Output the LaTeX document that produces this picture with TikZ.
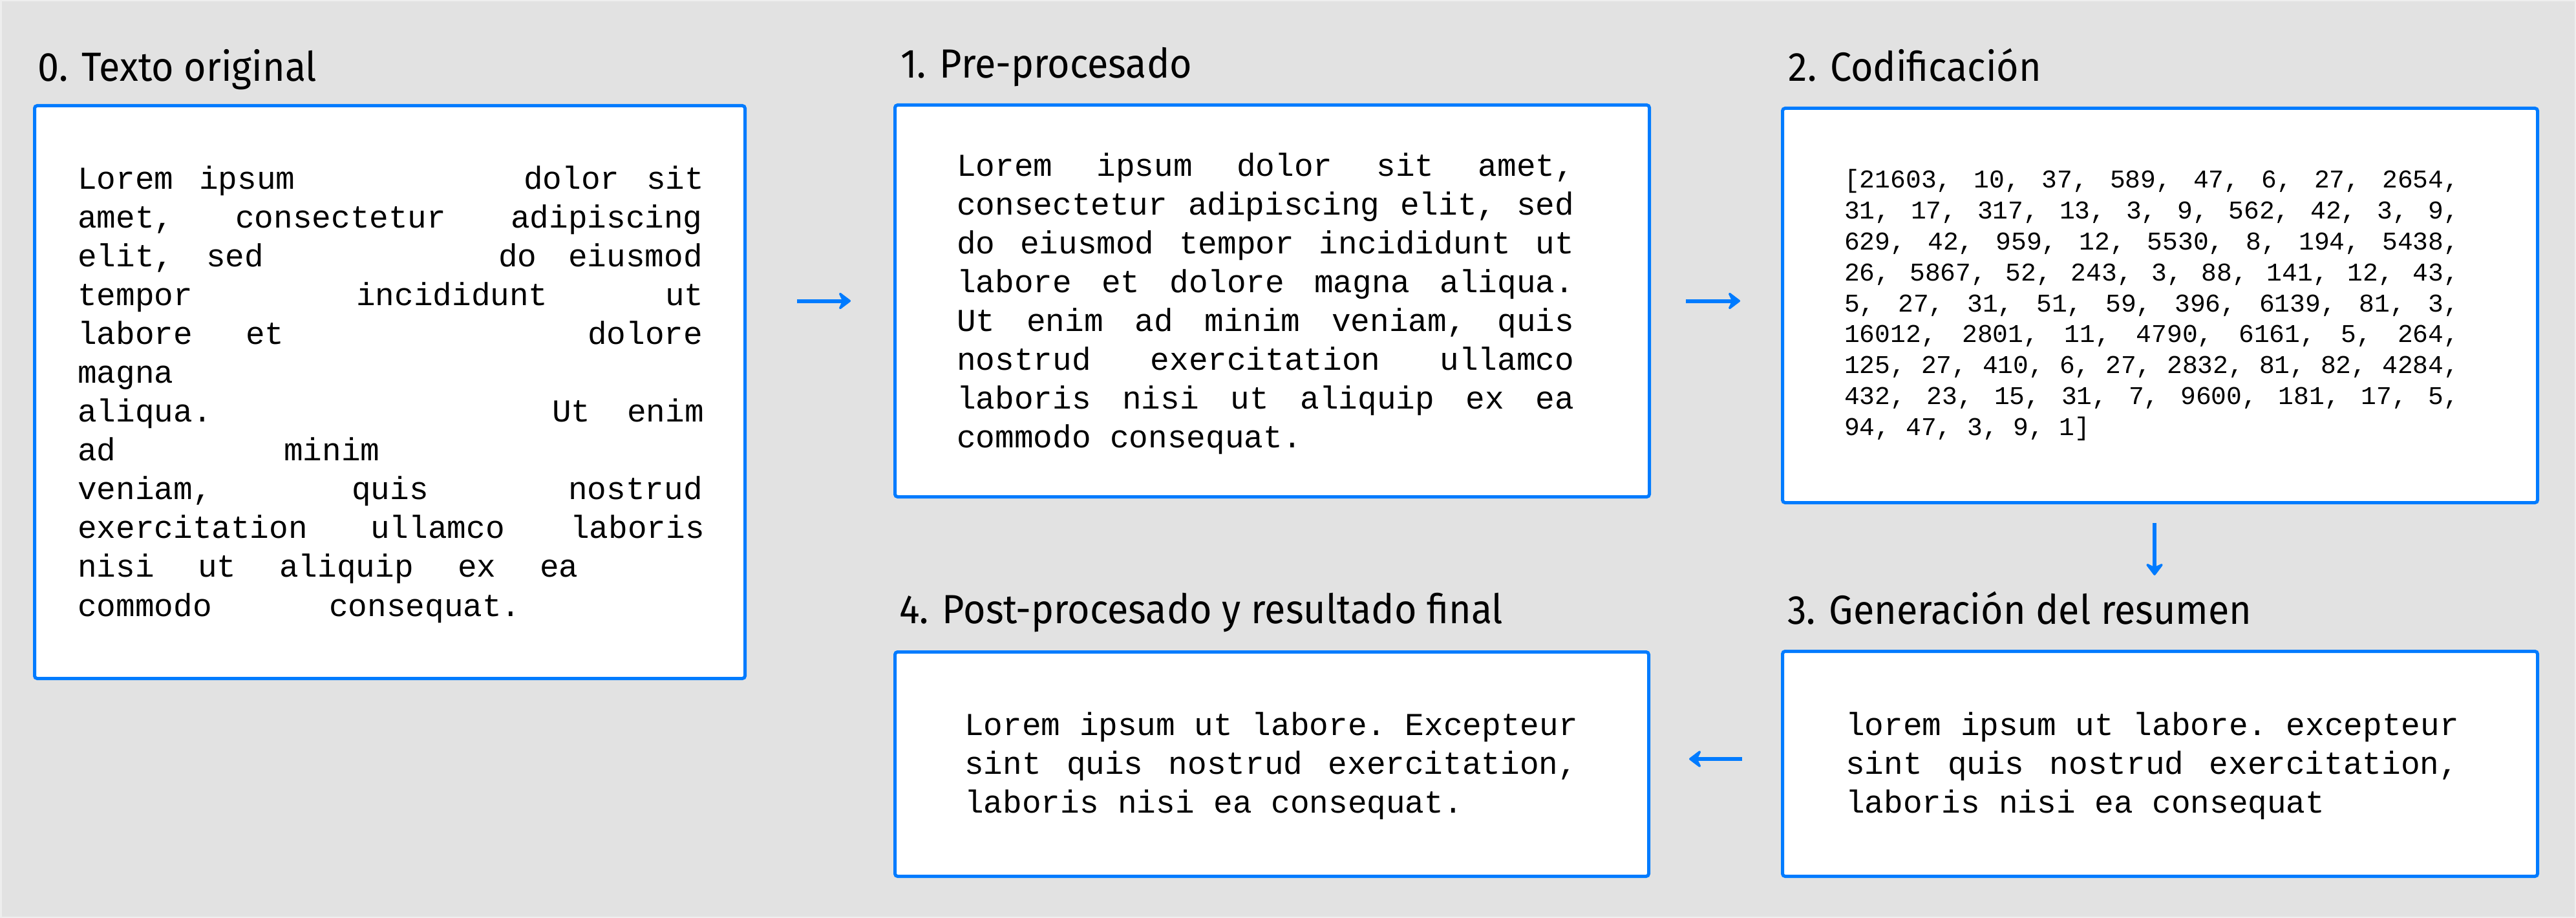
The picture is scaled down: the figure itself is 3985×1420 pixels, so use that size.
\documentclass[tikz,border=0pt]{standalone}
\usepackage{fontspec}
\usetikzlibrary{arrows.meta}
\newfontfamily\monofont{Liberation Mono}
\newfontfamily\titlefont[FakeStretch=0.94]{Fira Sans}
\definecolor{bgout}{RGB}{238,238,238}
\definecolor{bgin}{RGB}{226,226,226}
\definecolor{boxblue}{RGB}{0,123,255}
\newcommand\monobig{\monofont\fontsize{49.4pt}{60pt}\selectfont\frenchspacing}
\newcommand\monosmall{\monofont\fontsize{39.6pt}{47.6pt}\selectfont\frenchspacing}
\newcommand\jline[2]{\hbox to #1{\spaceskip=\fontdimen2\font plus 1fil\relax #2}}
\tikzset{
  panel/.style={draw=boxblue, line width=5pt, fill=white, rounded corners=4pt,
    inner sep=0pt, outer sep=0pt, anchor=north west},
  ttl/.style={anchor=base west, inner sep=0pt, font=\titlefont\fontsize{63pt}{75pt}\selectfont},
  big/.style={anchor=base west, inner sep=0pt, font=\monobig},
  small/.style={anchor=base west, inner sep=0pt, font=\monosmall},
  flow/.style={draw=boxblue, line width=6pt, -{Stealth[length=22pt,width=33pt,inset=8pt,round]}}
}
\begin{document}
\begin{tikzpicture}[x=1pt,y=-1pt]
\useasboundingbox (0,0) rectangle (3985,1420);
\fill[bgout] (0,0) rectangle (3985,1420);
\fill[bgin] (2.5,2.5) rectangle (3982.5,1417.5);

% panels
\node[panel, minimum width=1099pt, minimum height=886pt] (b0) at (53.5,163.5) {};
\node[panel, minimum width=1167pt, minimum height=606pt] (b1) at (1384.5,162.5) {};
\node[panel, minimum width=1168pt, minimum height=610pt] (b2) at (2757.5,167.5) {};
\node[panel, minimum width=1168pt, minimum height=348pt] (b3) at (2757.5,1007.5) {};
\node[panel, minimum width=1166pt, minimum height=347pt] (b4) at (1384.5,1008.5) {};

% titles
\node[ttl] (t0) at (58.5,125.5) {0. Texto original};
\node[ttl] (t1) at (1393,120.5) {1. Pre-procesado};
\node[ttl] (t2) at (2766.5,125.7) {2. Codificación};
\node[ttl] (t3) at (2765,965.7) {3. Generación del resumen};
\node[ttl] (t4) at (1391,964.5) {4. Post-procesado y resultado final};

% panel 0 text (words placed as printed)
\node[big] (w0a) at (120,292.4) {Lorem};
\node[big] (w0b) at (308,292.4) {ipsum};
\node[big] (w0c) at (810,292.4) {dolor};
\node[big] (w0d) at (1000,292.4) {sit};
\node[big] (w1a) at (120,352.5) {amet,};
\node[big] (w1b) at (364,352.5) {consectetur};
\node[big] (w1c) at (790,352.5) {adipiscing};
\node[big] (w2a) at (120,412.5) {elit,};
\node[big] (w2b) at (319,412.5) {sed};
\node[big] (w2c) at (771,412.5) {do};
\node[big] (w2d) at (879,412.5) {eiusmod};
\node[big] (w3a) at (120,472.6) {tempor};
\node[big] (w3b) at (551,472.6) {incididunt};
\node[big] (w3c) at (1029,472.6) {ut};
\node[big] (w4a) at (120,532.7) {labore};
\node[big] (w4b) at (380,532.7) {et};
\node[big] (w4c) at (909,532.7) {dolore};
\node[big] (w5a) at (120,592.7) {magna};
\node[big] (w6a) at (120,652.7) {aliqua.};
\node[big] (w6b) at (854,652.7) {Ut};
\node[big] (w6c) at (970,652.7) {enim};
\node[big] (w7a) at (120,712.8) {ad};
\node[big] (w7b) at (439,712.8) {minim};
\node[big] (w8a) at (120,772.8) {veniam,};
\node[big] (w8b) at (544,772.8) {quis};
\node[big] (w8c) at (879,772.8) {nostrud};
\node[big] (w9a) at (120,832.9) {exercitation};
\node[big] (w9b) at (573,832.9) {ullamco};
\node[big] (w9c) at (882,832.9) {laboris};
\node[big] (w10a) at (120,892.9) {nisi};
\node[big] (w10b) at (306,892.9) {ut};
\node[big] (w10c) at (432,892.9) {aliquip};
\node[big] (w10d) at (708,892.9) {ex};
\node[big] (w10e) at (835,892.9) {ea};
\node[big] (w11a) at (120,953) {commodo};
\node[big] (w11b) at (509,953) {consequat.};

% panel 1 text
\node[big] (p1a) at (1480,272.5) {\jline{955pt}{Lorem ipsum dolor sit amet,}};
\node[big] (p1b) at (1480,332.5) {\jline{955pt}{consectetur adipiscing elit, sed}};
\node[big] (p1c) at (1480,392.5) {\jline{955pt}{do eiusmod tempor incididunt ut}};
\node[big] (p1d) at (1480,452.5) {\jline{955pt}{labore et dolore magna aliqua.}};
\node[big] (p1e) at (1480,512.5) {\jline{955pt}{Ut enim ad minim veniam, quis}};
\node[big] (p1f) at (1480,572.5) {\jline{955pt}{nostrud exercitation ullamco}};
\node[big] (p1g) at (1480,632.5) {\jline{955pt}{laboris nisi ut aliquip ex ea}};
\node[big] (p1h) at (1480,692.5) {commodo consequat.};

% panel 2 text
\node[small] (p2a) at (2853,291) {\jline{951pt}{[21603, 10, 37, 589, 47, 6, 27, 2654,}};
\node[small] (p2b) at (2853,338.75) {\jline{951pt}{31, 17, 317, 13, 3, 9, 562, 42, 3, 9,}};
\node[small] (p2c) at (2853,386.5) {\jline{951pt}{629, 42, 959, 12, 5530, 8, 194, 5438,}};
\node[small] (p2d) at (2853,434.25) {\jline{951pt}{26, 5867, 52, 243, 3, 88, 141, 12, 43,}};
\node[small] (p2e) at (2853,482) {\jline{951pt}{5, 27, 31, 51, 59, 396, 6139, 81, 3,}};
\node[small] (p2f) at (2853,529.75) {\jline{951pt}{16012, 2801, 11, 4790, 6161, 5, 264,}};
\node[small] (p2g) at (2853,577.5) {\jline{951pt}{125, 27, 410, 6, 27, 2832, 81, 82, 4284,}};
\node[small] (p2h) at (2853,625.25) {\jline{951pt}{432, 23, 15, 31, 7, 9600, 181, 17, 5,}};
\node[small] (p2i) at (2853,673) {94, 47, 3, 9, 1]};

% panel 3 text
\node[big] (p3a) at (2855,1137) {\jline{948pt}{lorem ipsum ut labore. excepteur}};
\node[big] (p3b) at (2855,1197) {\jline{948pt}{sint quis nostrud exercitation,}};
\node[big] (p3c) at (2855,1257) {laboris nisi ea consequat};

% panel 4 text
\node[big] (p4a) at (1492,1137) {\jline{948pt}{Lorem ipsum ut labore. Excepteur}};
\node[big] (p4b) at (1492,1197) {\jline{948pt}{sint quis nostrud exercitation,}};
\node[big] (p4c) at (1492,1257) {laboris nisi ea consequat.};

% connectors
\draw[flow, shorten <=80.5pt, shorten >=68.5pt] (b0.east |- b1.west) -- (b1.west);
\draw[flow, shorten <=56.5pt, shorten >=65.5pt] (b1.east) -- (b1.east -| b2.west);
\draw[flow, shorten <=31.5pt, shorten >=117.5pt] ([xshift=-8.5pt]b2.south) -- ([xshift=-8.5pt]b3.north);
\draw[flow, shorten <=62.5pt, shorten >=62.5pt] ([yshift=7.5pt]b3.west) -- ([yshift=7.5pt]b3.west -| b4.east);
\end{tikzpicture}
\end{document}
